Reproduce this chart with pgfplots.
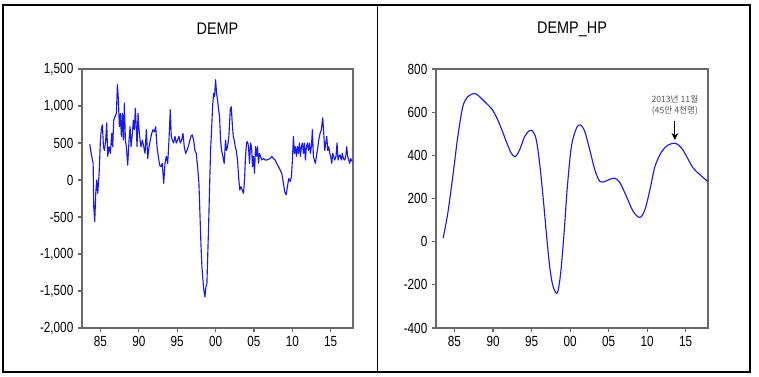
\documentclass[border=0pt]{standalone}
\usepackage{pgfplots}
\pgfplotsset{compat=1.18}
\usetikzlibrary{arrows.meta}
\usepackage{fontspec}
\setmainfont{Liberation Sans}[FakeStretch=0.8]
\newfontfamily\titlefont{Liberation Sans}[FakeStretch=0.86]
\newfontfamily\krfont{Noto Sans CJK KR}
\definecolor{lineblue}{RGB}{25,25,235}
\definecolor{boxgray}{RGB}{105,105,105}
\pgfplotsset{
  eviews/.style={
    scale only axis,
    enlargelimits=false,
    axis line style={boxgray, line width=1pt},
    tick style={boxgray, line width=0.8pt},
    tick align=outside,
    major tick length=3pt,
    xtick pos=bottom, ytick pos=left,
    xmin=1982.6, xmax=2017.9,
    xtick={1985,1990,1995,2000,2005,2010,2015},
    xticklabels={85,90,95,00,05,10,15},
    ticklabel style={font=\fontsize{11}{12}\selectfont, text=black},
    /pgf/number format/assume math mode=true,
    /pgf/number format/1000 sep={,},
    scaled y ticks=false,
    title style={at={(0.5,1)}, anchor=center, yshift=24pt, font=\titlefont\fontsize{12.6}{14}\selectfont},
    every axis plot/.append style={lineblue, line width=0.85pt, line join=round},
  }
}
\begin{document}
\begin{tikzpicture}
\path[use as bounding box] (0,0) rectangle (569.25pt,282pt);
\draw[black, line width=1.1pt] (2.25pt,3pt) rectangle (562.5pt,278.25pt);
\draw[black, line width=1.1pt] (283.1pt,3pt) -- (283.1pt,278.25pt);
\begin{axis}[eviews, at={(61.5pt,36pt)}, anchor=south west,
  width=203.25pt, height=194.25pt,
  ymin=-2000, ymax=1500, ytick={-2000,-1500,...,1500},
  title={DEMP}]
\addplot[mark=none] coordinates {
(1983.61,483) (1983.79,360) (1984.05,225) (1984.13,-360) (1984.26,-560) (1984.39,-180)
(1984.52,0) (1984.65,-180) (1984.83,90) (1985.00,540) (1985.13,700) (1985.26,745)
(1985.39,450) (1985.52,400) (1985.69,540) (1985.82,770) (1985.95,320) (1986.13,450)
(1986.30,360) (1986.47,630) (1986.60,450) (1986.73,810) (1986.91,860) (1987.08,900)
(1987.21,1290) (1987.34,1080) (1987.47,720) (1987.60,900) (1987.73,590) (1987.86,900)
(1987.99,540) (1988.12,1040) (1988.25,540) (1988.38,450) (1988.55,200) (1988.73,540)
(1988.86,720) (1988.99,450) (1989.16,630) (1989.29,810) (1989.42,680) (1989.55,970)
(1989.68,680) (1989.77,450) (1989.90,900) (1990.03,680) (1990.16,540) (1990.29,450)
(1990.46,540) (1990.64,450) (1990.81,360) (1990.98,680) (1991.16,290) (1991.33,450)
(1991.50,540) (1991.68,630) (1991.85,680) (1992.02,650) (1992.20,720) (1992.37,450)
(1992.54,320) (1992.72,200) (1992.89,180) (1993.06,225) (1993.24,-45) (1993.41,225)
(1993.58,320) (1993.76,225) (1993.93,540) (1994.10,950) (1994.23,590) (1994.36,540)
(1994.54,500) (1994.71,590) (1994.88,500) (1995.06,540) (1995.23,590) (1995.40,500)
(1995.58,540) (1995.75,630) (1995.92,450) (1996.10,360) (1996.27,400) (1996.44,450)
(1996.62,520) (1996.79,590) (1996.96,610) (1997.14,540) (1997.31,400) (1997.48,360)
(1997.66,180) (1997.83,-45) (1997.96,-450) (1998.09,-860) (1998.22,-1170) (1998.35,-1350)
(1998.48,-1490) (1998.61,-1580) (1998.74,-1445) (1998.87,-1400) (1998.96,-1080) (1999.09,-630)
(1999.22,-90) (1999.35,400) (1999.48,680) (1999.61,990) (1999.74,1170) (1999.87,1130)
(2000.00,1355) (2000.13,1170) (2000.26,1080) (2000.39,950) (2000.52,860) (2000.65,540)
(2000.78,400) (2000.95,320) (2001.12,225) (2001.30,540) (2001.43,400) (2001.56,450)
(2001.73,590) (2001.91,950) (2002.04,990) (2002.17,770) (2002.30,590) (2002.43,540)
(2002.56,450) (2002.69,400) (2002.86,270) (2003.03,0) (2003.16,-135) (2003.29,-90)
(2003.47,-135) (2003.64,-180) (2003.77,0) (2003.90,320) (2004.03,500) (2004.16,520)
(2004.29,450) (2004.42,225) (2004.55,500) (2004.68,450) (2004.81,180) (2004.94,320)
(2005.07,90) (2005.20,450) (2005.33,320) (2005.46,450) (2005.59,225) (2005.72,360)
(2005.85,320) (2006.02,270) (2006.24,290) (2006.46,270) (2006.67,270) (2006.89,280)
(2007.11,290) (2007.32,320) (2007.54,290) (2007.76,270) (2007.97,225) (2008.19,180)
(2008.41,135) (2008.62,90) (2008.84,-45) (2009.01,-160) (2009.19,-200) (2009.36,-90)
(2009.53,20) (2009.71,-20) (2009.88,45) (2010.01,270) (2010.14,590) (2010.27,360)
(2010.40,450) (2010.53,320) (2010.66,450) (2010.79,360) (2010.92,500) (2011.05,320)
(2011.18,450) (2011.31,500) (2011.44,360) (2011.57,500) (2011.70,270) (2011.83,450)
(2011.96,500) (2012.09,400) (2012.22,500) (2012.35,360) (2012.48,450) (2012.61,680)
(2012.74,320) (2012.87,270) (2013.00,225) (2013.13,320) (2013.26,400) (2013.44,540)
(2013.61,630) (2013.78,680) (2013.96,840) (2014.09,630) (2014.22,400) (2014.35,500)
(2014.48,590) (2014.61,400) (2014.74,450) (2014.87,360) (2014.99,320) (2015.13,225)
(2015.26,360) (2015.39,320) (2015.52,270) (2015.69,320) (2015.82,500) (2015.95,270)
(2016.08,320) (2016.21,340) (2016.38,270) (2016.51,360) (2016.64,290) (2016.82,270)
(2016.95,320) (2017.08,450) (2017.21,320) (2017.34,270) (2017.47,225) (2017.60,290)
(2017.77,250)
};
\end{axis}
\begin{axis}[eviews, at={(327pt,36pt)}, anchor=south west,
  width=204pt, height=194.25pt,
  ymin=-400, ymax=800, ytick={-400,-200,...,800},
  title={DEMP\_HP}]
\addplot[mark=none, smooth, tension=0.5] coordinates {
(1983.53,17) (1984.13,132) (1984.78,302) (1985.43,487) (1986.08,626) (1986.73,672)
(1987.60,687) (1988.25,672) (1988.90,649) (1989.77,618) (1990.42,579) (1991.07,525)
(1991.72,464) (1992.37,410) (1992.89,394) (1993.45,425) (1994.10,487) (1994.75,515)
(1995.19,510) (1995.62,471) (1996.05,363) (1996.49,209) (1996.92,40) (1997.35,-115)
(1997.79,-207) (1998.35,-238) (1998.78,-145) (1999.22,40) (1999.65,256) (2000.17,441)
(2000.82,525) (2001.34,541) (2001.91,510) (2002.56,425) (2003.21,333) (2003.86,279)
(2004.51,279) (2005.16,289) (2005.81,294) (2006.46,274) (2007.32,209) (2008.19,140)
(2009.06,112) (2009.71,148) (2010.36,240) (2011.01,348) (2011.88,417) (2012.74,448)
(2013.70,456) (2014.48,433) (2015.13,394) (2016.00,340) (2016.86,310) (2017.86,279)
};
\draw[-{Stealth[length=5pt,width=5pt]}, black, line width=0.6pt] (axis cs:2013.6,561) -- (axis cs:2013.6,472);
\node[font=\krfont\fontsize{6.5}{7.6}\selectfont, text=black!65, align=center, anchor=south]
  at (axis cs:2013.6,566) {2013년\ 11월\\(45만\ 4천명)};
\end{axis}
\end{tikzpicture}
\end{document}
